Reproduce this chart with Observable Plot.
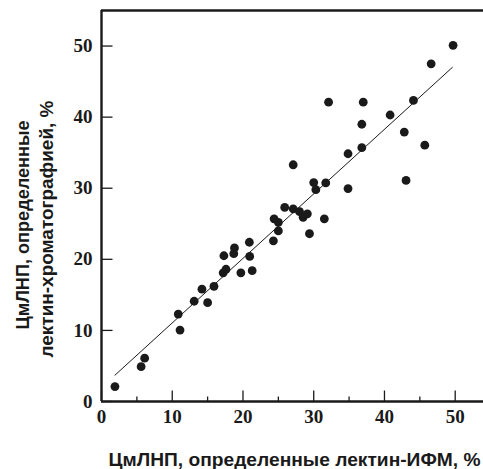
<!DOCTYPE html>
<html>
<head>
<meta charset="utf-8">
<script src="https://cdn.jsdelivr.net/npm/d3@7"></script>
<script src="https://cdn.jsdelivr.net/npm/@observablehq/plot@0.6"></script>
<style>
  html, body { margin: 0; padding: 0; background: #fff; }
</style>
</head>
<body>
<div id="chart"></div>
<script>
// Data
const xValues = [1.9, 5.6, 6.1, 10.85, 11.1, 13.1, 14.2, 15.0, 15.9, 17.3, 17.2, 17.6, 18.7, 18.8, 19.7, 20.9, 20.95, 21.3,
  24.3, 24.4, 25.0, 25.0, 25.9, 27.1, 28.0, 28.5, 29.1, 29.4, 31.5, 27.1, 30.0, 30.3, 31.7, 34.85, 34.85, 36.8, 36.8,
  32.1, 37.0, 40.8, 42.8, 43.05, 44.1, 45.7, 46.6, 49.7];
const yValues = [2.1, 4.9, 6.1, 12.3, 10.05, 14.1, 15.8, 13.9, 16.2, 20.5, 18.1, 18.6, 20.8, 21.6, 18.1, 22.4, 20.4, 18.4,
  22.6, 25.7, 25.2, 24.0, 27.3, 27.1, 26.7, 25.9, 26.4, 23.6, 25.7, 33.3, 30.8, 29.8, 30.75, 34.85, 29.95, 35.7, 39.0,
  42.1, 42.1, 40.3, 37.9, 31.1, 42.35, 36.05, 47.5, 50.1];
const fitX = [1.9, 49.6];
const fitY = [3.7, 47.0];
const xDomain = [0, 54];
const yDomain = [0, 55];
const xMajorTicks = [0, 10, 20, 30, 40, 50];
const xMinorTicks = [5, 15, 25, 35, 45];
const yTicks = [0, 10, 20, 30, 40, 50];
const xTitle = "ЦмЛНП, определенные лектин-ИФМ, %";
const yTitleLine1 = "ЦмЛНП, определенные";
const yTitleLine2 = "лектин-хроматографией, %";

const points = xValues.map((x, i) => ({x, y: yValues[i]}));
const fit = fitX.map((x, i) => ({x, y: fitY[i]}));

const ink = "#1a1a1a";
const tickFont = {fontFamily: "Liberation Serif, serif", fontWeight: "bold", fontSize: 19, fill: ink};
const titleFont = {fontFamily: "Liberation Sans, Arial, sans-serif", fontWeight: "bold", fontSize: 19, fill: ink};

const chart = Plot.plot({
  width: 483,
  height: 469,
  marginLeft: 101,
  marginRight: 0,
  marginTop: 10,
  marginBottom: 68,
  style: {background: "#fff", overflow: "visible"},
  x: {domain: xDomain, axis: null},
  y: {domain: yDomain, axis: null},
  marks: [
    // tick marks (inward)
    Plot.vector(xMajorTicks, {x: d => d, frameAnchor: "bottom", rotate: 0, length: 11, anchor: "start", r: 0, stroke: ink, strokeWidth: 1.3, strokeLinecap: "butt"}),
    Plot.vector(xMinorTicks, {x: d => d, frameAnchor: "bottom", rotate: 0, length: 5, anchor: "start", r: 0, stroke: ink, strokeWidth: 1.3, strokeLinecap: "butt"}),
    Plot.vector(yTicks, {y: d => d, frameAnchor: "left", rotate: 90, length: 11, anchor: "start", r: 0, stroke: ink, strokeWidth: 1.3, strokeLinecap: "butt"}),
    // tick labels
    Plot.text(xMajorTicks, {x: d => d, frameAnchor: "bottom", dy: 21, text: d => String(d), textAnchor: "middle", ...tickFont}),
    Plot.text(yTicks, {y: d => d, frameAnchor: "left", dx: -9, text: d => String(d), textAnchor: "end", ...tickFont}),
    // axis frame lines
    Plot.ruleY([yDomain[1]], {stroke: ink, strokeWidth: 2.4}),
    Plot.ruleY([yDomain[0]], {stroke: ink, strokeWidth: 2.4}),
    Plot.ruleX([xDomain[0]], {stroke: ink, strokeWidth: 2.4}),
    // regression line
    Plot.line(fit, {x: "x", y: "y", stroke: ink, strokeWidth: 1}),
    // points
    Plot.dot(points, {x: "x", y: "y", r: 4.4, fill: ink, stroke: "none"}),
    // titles
    Plot.text([xTitle], {frameAnchor: "bottom", dx: 2, dy: 64, lineAnchor: "bottom", textAnchor: "middle", text: d => d, ...titleFont}),
    Plot.text([yTitleLine1], {frameAnchor: "left", dx: -73, dy: 19, rotate: -90, lineAnchor: "bottom", textAnchor: "middle", text: d => d, ...titleFont}),
    Plot.text([yTitleLine2], {frameAnchor: "left", dx: -49, dy: 23, rotate: -90, lineAnchor: "bottom", textAnchor: "middle", text: d => d, ...titleFont})
  ]
});

// fit title widths to the reference
const lengths = new Map([[xTitle, 372], [yTitleLine1, 209], [yTitleLine2, 257]]);
d3.select(chart).selectAll("text").each(function () {
  const t = this.textContent;
  if (lengths.has(t)) {
    this.setAttribute("textLength", lengths.get(t));
    this.setAttribute("lengthAdjust", "spacingAndGlyphs");
  }
});

document.getElementById("chart").appendChild(chart);
</script>
</body>
</html>
